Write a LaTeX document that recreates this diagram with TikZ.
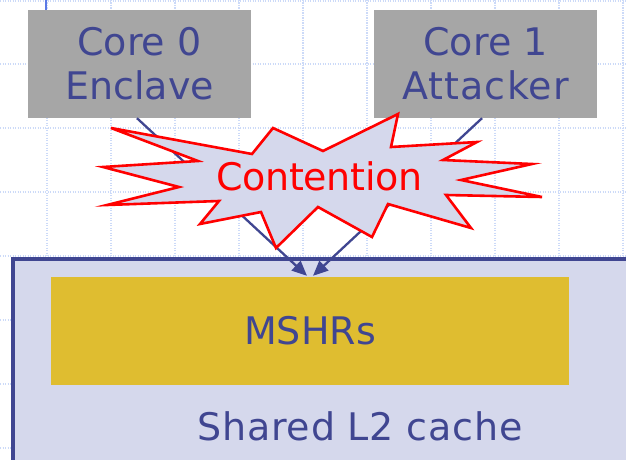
\documentclass[tikz,border=0pt]{standalone}
\usepackage{fontspec}
\setmainfont{DejaVu Sans}
\usetikzlibrary{arrows.meta}
\definecolor{inkblue}{RGB}{64,70,145}
\definecolor{gridblue}{RGB}{204,218,248}
\definecolor{boxgray}{RGB}{166,166,166}
\definecolor{lavender}{RGB}{213,216,236}
\definecolor{mshrgold}{RGB}{223,189,48}
\definecolor{barblue}{RGB}{92,122,230}
\tikzset{
  gridline/.style={gridblue, line width=1.2pt, dash pattern=on 1.2pt off 1.3pt},
  corebox/.style={fill=boxgray, draw=none, text=inkblue, align=center,
    minimum width=223pt, minimum height=108pt, inner sep=0pt,
    font=\fontsize{38}{44}\selectfont},
  cachebox/.style={fill=lavender, draw=inkblue, line width=3.5pt, inner sep=0pt,
    minimum width=640pt, minimum height=230pt, anchor=north west},
  mshrbox/.style={fill=mshrgold, draw=none, text=inkblue, inner sep=0pt,
    minimum width=518pt, minimum height=108pt,
    font=\fontsize{38}{44}\selectfont},
  label/.style={text=inkblue, inner sep=0pt, font=\fontsize{38}{44}\selectfont},
  arr/.style={inkblue, line width=2.3pt, -{Triangle[length=15pt,width=13pt]}},
  burst/.style={fill=lavender, draw=red, line width=2.6pt},
}
\begin{document}
\begin{tikzpicture}[x=1pt, y=-1pt]
  \clip (0,0) rectangle (626,460);
  \fill[white] (0,0) rectangle (626,460);

  % dotted background grid
  \foreach \gx in {47,111,...,623} \draw[gridline] (\gx,0) -- (\gx,460);
  \foreach \gy in {1,64,128,192,256,320,384,448} \draw[gridline] (0,\gy) -- (626,\gy);
  \draw[barblue, line width=2pt] (46,0) -- (46,10);

  % shared cache and its miss status holding registers
  \node[cachebox] (l2) at (11,257) {};
  \node[mshrbox] (mshr) at (310,331) {MSHRs};
  \node[label] (l2label) at (360,426.5) {\addfontfeature{LetterSpace=2}Shared L2 cache};

  % cores
  \node[corebox] (core0) at (139.5,64) {Core 0\\Enclave};
  \node[corebox] (core1) at (485.5,64) {Core 1\\\addfontfeature{LetterSpace=3}Attacker};

  % requests from both cores into the MSHRs
  \draw[arr] ([xshift=-2.5pt]core0.south) -- ([xshift=-3pt,yshift=1pt]mshr.north);
  \draw[arr] ([xshift=-3.5pt]core1.south) -- ([xshift=3pt,yshift=1pt]mshr.north);

  % contention burst
  \draw[burst] (111,128) -- (252,154) -- (273,128) -- (323,151) -- (398,114)
    -- (391,147) -- (477,142) -- (443,160) -- (532,164) -- (461,180)
    -- (542,197) -- (446,195) -- (471,228) -- (388,204) -- (372,237)
    -- (318,207) -- (276,248) -- (261,212) -- (200,224) -- (219,201)
    -- (107,205) -- (179,187) -- (103,167) -- (198,161) -- cycle;
  \node[label, text=red] (contention) at (319.5,176.5) {\addfontfeature{LetterSpace=-1}Contention};
\end{tikzpicture}
\end{document}
